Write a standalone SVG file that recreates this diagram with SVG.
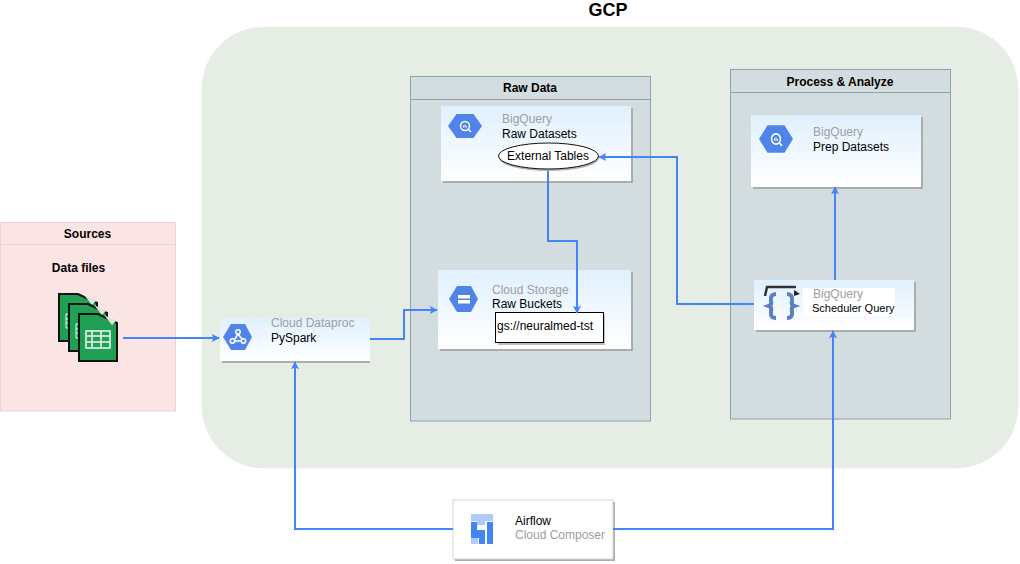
<svg xmlns="http://www.w3.org/2000/svg" width="1020" height="564" viewBox="0 0 1020 564">
<style>
text{font-family:"Liberation Sans",Arial,sans-serif;font-size:12px;fill:#000}
.b{font-weight:bold}
.g{fill:#9e9e9e}
.panel{fill:#d3dcde;stroke:#8ea3b0;stroke-width:1}
.card{fill:url(#cardg)}
.shadow{fill:#a9aeab}
.wire{fill:none;stroke:#4285fa;stroke-width:2}
.hex{fill:#5184e8}
.ic{fill:none;stroke:#fff;stroke-width:1.5}
.sheet{fill:#1fa055;stroke:#111;stroke-width:2}
.fold{fill:#dfe6e0}
</style>
<defs>
<linearGradient id="cardg" x1="0" y1="0" x2="0" y2="1"><stop offset="0" stop-color="#e0f0fe"/><stop offset="1" stop-color="#ffffff"/></linearGradient>
<marker id="arr" viewBox="0 0 10 10" refX="9" refY="5" markerWidth="9" markerHeight="8" markerUnits="userSpaceOnUse" orient="auto"><path d="M0 0L10 5L0 10L2 5Z" fill="#4285fa"/></marker>
<filter id="soft" x="-10%" y="-10%" width="120%" height="120%"><feGaussianBlur stdDeviation="0.7"/></filter>
<g id="bq"><path class="hex" d="M-17 0L-8.500-12H8.500L17 0L8.500 12H-8.500Z"/><circle class="ic" cx="0" cy="0" r="4.500"/><path d="M-1.500 1.500V-.5M0 1.500V-1.500M1.500 1.500V0" stroke="#fff" fill="none"/><path class="ic" d="M3 3L6 6"/></g>
</defs>

<g id="gcp">
<rect x="202" y="27" width="816" height="441" rx="62" fill="#e6ede5" stroke="#e9efe8"/>
<text class="b" x="608" y="16" text-anchor="middle" style="font-size:18px">GCP</text>
</g>

<g id="sources">
<rect x="0.500" y="222.500" width="175" height="188.500" fill="#fbe4e4" stroke="#f1cfd6"/>
<path d="M0 244.500H175" stroke="#f1cfd6"/>
<text class="b" x="87.500" y="238" text-anchor="middle">Sources</text>
<text class="b" x="78.500" y="272" text-anchor="middle">Data files</text>
</g>

<g id="data-files">
<path class="sheet" d="M59 294H78L97 303V341H59Z"/>
<path class="fold" d="M84 295L96 301L92 305Z"/>
<path d="M66 314H74V328H66ZM66 319H74M66 323H74" fill="none" stroke="#e8f5ec"/>
<path class="sheet" d="M69 304H88L107 313V351H69Z"/>
<path class="fold" d="M94 305L106 311L102 315Z"/>
<path d="M76 324H84V338H76ZM76 329H84M76 333H84" fill="none" stroke="#e8f5ec"/>
<path class="sheet" d="M79 314H98L117 323V361H79Z"/>
<path class="fold" d="M104 315L116 321L112 325Z"/>
<path d="M86 331H110V348H86ZM86 336H110M86 342H110M92 331V348M101 331V348" fill="none" stroke="#f1f8f3" stroke-width="1.500"/>
</g>

<g id="raw-data">
<rect class="panel" x="410.500" y="76.500" width="240" height="344.500"/>
<path d="M410 99.500H650" stroke="#8ea3b0"/>
<text class="b" x="530" y="92" text-anchor="middle">Raw Data</text>
</g>

<g id="process-analyze">
<rect class="panel" x="730.500" y="69.500" width="220" height="349.500"/>
<path d="M730 92.500H950" stroke="#8ea3b0"/>
<text class="b" x="840" y="86" text-anchor="middle">Process &amp; Analyze</text>
</g>

<g id="dataproc">
<rect class="shadow" x="222" y="320" width="148" height="43"/>
<rect class="card" x="220" y="318" width="150" height="43"/>
<path class="hex" d="M223 337L231 324H245L252 337L245 350H231Z"/>
<g class="ic" stroke-width="1.500"><circle cx="238" cy="332" r="2.200"/><circle cx="232.500" cy="341" r="2.200"/><circle cx="243.500" cy="341" r="2.200"/><path d="M238 334L235 339M235 341H241M238 334L242 339"/></g>
<text class="g" x="271" y="327">Cloud Dataproc</text>
<text x="271" y="342">PySpark</text>
</g>

<g id="bq-raw">
<rect class="shadow" x="443" y="108" width="190" height="75"/>
<rect class="card" x="441" y="106" width="190" height="75"/>
<use href="#bq" x="465" y="126"/>
<text class="g" x="502" y="123">BigQuery</text>
<text x="502" y="138">Raw Datasets</text>
<ellipse cx="549" cy="158" rx="50" ry="13" fill="#000" opacity=".3"/>
<ellipse cx="548.500" cy="156" rx="50" ry="13" fill="#fff" stroke="#111"/>
<text x="548" y="160" text-anchor="middle">External Tables</text>
</g>

<g id="cloud-storage">
<rect class="shadow" x="440" y="272" width="193" height="79"/>
<rect class="card" x="438" y="270" width="193" height="79"/>
<path class="hex" d="M449 299L457 286H471L478 299L471 312H457Z"/>
<rect x="458" y="295" width="12" height="3.500" fill="#fff"/><rect x="458" y="300" width="12" height="3.500" fill="#fff"/>
<text class="g" x="492" y="294">Cloud Storage</text>
<text x="492" y="308">Raw Buckets</text>
<rect x="498" y="315" width="107" height="30" fill="#bdbdbd"/>
<rect x="495.500" y="312.500" width="108" height="30" fill="#fff" stroke="#000"/>
<text x="497" y="330">gs://neuralmed-tst</text>
</g>

<g id="bq-prep">
<rect class="shadow" x="753" y="117" width="170" height="72"/>
<rect class="card" x="751" y="115" width="170" height="72"/>
<use href="#bq" transform="translate(776 139) scale(1 1.150)"/>
<text class="g" x="813" y="136">BigQuery</text>
<text x="813" y="151">Prep Datasets</text>
</g>

<g id="scheduler">
<rect class="shadow" x="756" y="282" width="160" height="50"/>
<rect class="card" x="754" y="280" width="160" height="50"/>
<rect x="803" y="288" width="92" height="28" fill="#fff"/>
<g filter="url(#soft)">
<path d="M765 296L767 287H796" fill="none" stroke="#333" stroke-width="2.500"/>
<path d="M794 290L800 294L794 296Z" fill="#222"/>
<path d="M776 294Q770 294 771 301Q772 305 769 306Q772 307 771 312Q770 318 776 318M787 294Q793 294 792 301Q791 305 794 306Q791 307 792 312Q793 318 787 318" fill="none" stroke="#5b7fc0" stroke-width="4"/>
</g>
<text class="g" x="813" y="298">BigQuery</text>
<text x="812" y="312" style="font-size:11px">Scheduler Query</text>
</g>

<g id="airflow">
<rect class="shadow" x="455" y="502" width="160" height="59"/>
<rect x="453" y="500" width="160" height="59" fill="#fff" stroke="#d5d5d5"/>
<path d="M471 514H493V521H485V525H477V521H471ZM471 538H478V544H471Z" fill="#aecbfa"/>
<path d="M471 522H477V530H485V544H479V538H471ZM487 522H493V544H487Z" fill="#4285f4"/>
<text x="515" y="525">Airflow</text>
<text class="g" x="515" y="539">Cloud Composer</text>
</g>

<g id="connectors">
<path class="wire" d="M123 338H219" marker-end="url(#arr)"/>
<path class="wire" d="M370 339H404V310H437" marker-end="url(#arr)"/>
<path class="wire" d="M548 171V241H577V313" marker-end="url(#arr)"/>
<path class="wire" d="M754 304H677V157H599" marker-end="url(#arr)"/>
<path class="wire" d="M835 280V187" marker-end="url(#arr)"/>
<path class="wire" d="M453 529H295V362" marker-end="url(#arr)"/>
<path class="wire" d="M613 529H833V331" marker-end="url(#arr)"/>
</g>
</svg>
